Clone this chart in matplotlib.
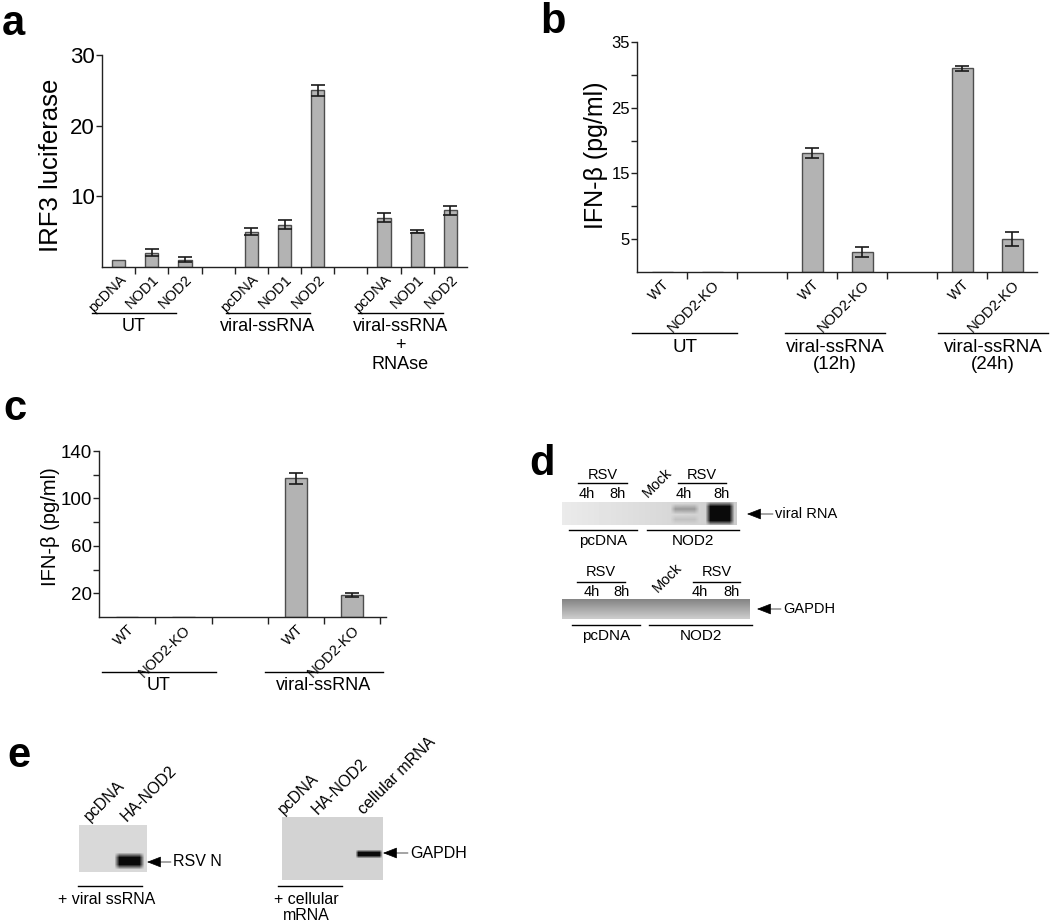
import numpy as np
import matplotlib
matplotlib.use('Agg')
import matplotlib.pyplot as plt
from matplotlib import font_manager

# fonts: Arial-like, with a narrow variant for panel a if present
names = {f.name for f in font_manager.fontManager.ttflist}
HAS_NARROW = 'Liberation Sans Narrow' in names
NARROW = 'Liberation Sans Narrow' if HAS_NARROW else 'Liberation Sans'
plt.rcParams['font.family'] = ['Liberation Sans', 'DejaVu Sans']

W, H = 1050, 923

# === Data ===
# panel a: IRF3 luciferase
a_labels = ['pcDNA', 'NOD1', 'NOD2'] * 3
a_pos = np.array([0, 1, 2, 4, 5, 6, 8, 9, 10])
a_vals = np.array([1.0, 2.0, 1.0, 5.0, 6.0, 25.0, 7.0, 5.0, 8.0])
a_err = np.array([0.0, 0.5, 0.35, 0.45, 0.65, 0.75, 0.65, 0.25, 0.65])
a_groups = ['UT', 'viral-ssRNA', 'viral-ssRNA\n+\nRNAse']

# panel b: IFN-beta, 12h / 24h
b_labels = ['WT', 'NOD2-KO'] * 3
b_pos = np.array([0, 1, 3, 4, 6, 7])
b_vals = np.array([0.0, 0.0, 18.1, 3.0, 31.0, 5.0])
b_err = np.array([0.0, 0.0, 0.75, 0.75, 0.4, 1.05])
b_groups = ['UT', 'viral-ssRNA\n(12h)', 'viral-ssRNA\n(24h)']

# panel c: IFN-beta
c_labels = ['WT', 'NOD2-KO'] * 2
c_pos = np.array([0, 1, 3, 4])
c_vals = np.array([0.0, 0.0, 117.0, 18.5])
c_err = np.array([0.0, 0.0, 4.5, 2.0])
c_groups = ['UT', 'viral-ssRNA']

# gel band intensities (0 = black, 1 = white)
d_top_bands = [(673, 697, 506, 512, 0.62), (673, 697, 517, 522, 0.76), (708, 732, 504, 523, 0.04)]
e1_bands = [(117, 142, 855, 867, 0.04)]
e2_bands = [(357, 381, 851, 857, 0.04)]

BAR_FC = '#b3b3b3'
BAR_EC = '#4d4d4d'


def box(x0, y0, x1, y1):
    return [x0 / W, 1 - y1 / H, (x1 - x0) / W, (y1 - y0) / H]


fig = plt.figure(figsize=(W / 100, H / 100), dpi=100)

# overlay in pixel coordinates for texts, lines and gels
ov = fig.add_axes([0, 0, 1, 1], zorder=0)
ov.patch.set_alpha(0)


def bar_panel(rect, pos, vals, err, labels, xlim, ylim, major, minor, ytick_font, ytick_fs, xtick_fs, width):
    ax = fig.add_axes(box(*rect), zorder=2)
    ax.patch.set_alpha(0)
    ax.bar(pos, vals, width=width, color=BAR_FC, edgecolor=BAR_EC, linewidth=1.0, zorder=2)
    m = err > 0
    ax.errorbar(pos[m], vals[m], yerr=err[m], fmt='none', ecolor='#1a1a1a',
                elinewidth=1.2, capsize=5, capthick=1.2, zorder=3)
    ax.set_xlim(*xlim)
    ax.set_ylim(*ylim)
    for s in ['top', 'right']:
        ax.spines[s].set_visible(False)
    for s in ['left', 'bottom']:
        ax.spines[s].set_color('#222222')
        ax.spines[s].set_linewidth(1.0)
    ax.set_yticks(major)
    ax.set_yticks(minor, minor=True)
    ax.set_yticklabels([str(v) for v in major], fontsize=ytick_fs, family=ytick_font)
    ax.tick_params(axis='y', which='both', length=4, width=1, pad=1, color='#222222')
    ax.set_xticks(pos)
    ax.set_xticklabels(labels, rotation=45, ha='right', rotation_mode='anchor', fontsize=xtick_fs)
    ax.tick_params(axis='x', which='major', length=0, pad=4)
    ax.set_xticks(np.arange(0.5, xlim[1], 1.0), minor=True)
    ax.tick_params(axis='x', which='minor', length=5, width=1, color='#222222')
    return ax


# === Panel a ===
ax_a = bar_panel((102, 55, 467, 267), a_pos, a_vals, a_err, a_labels, (-0.5, 10.5), (0, 30),
                 [10, 20, 30], [], NARROW, 18 if HAS_NARROW else 16,
                 12 if HAS_NARROW else 10.5, 0.4)
for lbl in ax_a.get_xticklabels():
    lbl.set_family(NARROW)
ov.text(51, 165, 'IRF3 luciferase', rotation=90, ha='center', va='center', fontsize=18.5)
grp_fs = 15 if HAS_NARROW else 13
for (x0, x1), txt in zip([(92, 176), (226, 310), (358, 443)], a_groups):
    ov.plot([x0, x1], [313, 313], color='k', lw=1.0)
    ov.text((x0 + x1) / 2, 318, txt, ha='center', va='top', fontsize=grp_fs, family=NARROW,
            linespacing=1.15)

# === Panel b ===
bar_panel((637, 42, 1037, 272), b_pos, b_vals, b_err, b_labels, (-0.5, 7.5), (0, 35),
          [5, 15, 25, 35], [10, 20, 30], 'Liberation Sans', 12, 10.5, 0.42)
ov.text(596, 155, 'IFN-β (pg/ml)', rotation=90, ha='center', va='center', fontsize=18)
for (x0, x1), txt in zip([(632, 737), (785, 885), (938, 1048)], b_groups):
    ov.plot([x0, x1], [333, 333], color='k', lw=1.0)
    ov.text((x0 + x1) / 2, 339, txt, ha='center', va='top', fontsize=13.5, linespacing=1.0)

# === Panel c ===
bar_panel((99, 451, 386, 617), c_pos, c_vals, c_err, c_labels, (-0.5, 4.6), (0, 140),
          [20, 60, 100, 140], [40, 80, 120], 'Liberation Sans', 13.5, 10.5, 0.4)
ov.text(50, 527, 'IFN-β (pg/ml)', rotation=90, ha='center', va='center', fontsize=14.5)
for (x0, x1), txt in zip([(102, 216), (265, 383)], c_groups):
    ov.plot([x0, x1], [672, 672], color='k', lw=1.0)
    ov.text((x0 + x1) / 2, 677, txt, ha='center', va='top', fontsize=13)


# === gels ===
def blur(img, k):
    ker = np.ones(k) / k
    p = k // 2
    img = np.pad(img, p, mode='edge')
    img = np.apply_along_axis(lambda r: np.convolve(r, ker, mode='valid'), 1, img)
    img = np.apply_along_axis(lambda c: np.convolve(c, ker, mode='valid'), 0, img)
    return img


def gel(x0, x1, y0, y1, base, bands, k=3):
    img = base.copy()
    for bx0, bx1, by0, by1, lev in bands:
        img[by0 - y0:by1 - y0, bx0 - x0:bx1 - x0] = lev
    img = blur(img, k)
    ov.imshow(img, cmap='gray', vmin=0, vmax=1, extent=(x0, x1, y1, y0),
              aspect='auto', interpolation='bilinear', zorder=1)


# d top gel
gx0, gx1, gy0, gy1 = 562, 737, 502, 525
base = np.tile(np.linspace(0.92, 0.80, gx1 - gx0), (gy1 - gy0, 1))
gel(gx0, gx1, gy0, gy1, base, d_top_bands, k=5)
# d bottom gel
gx0, gx1, gy0, gy1 = 562, 750, 599, 619
base = np.tile(np.linspace(0.52, 0.80, gy1 - gy0)[:, None], (1, gx1 - gx0))
gel(gx0, gx1, gy0, gy1, base, [], k=3)
# e gels
base = np.full((872 - 825, 147 - 79), 0.85)
gel(79, 147, 825, 872, base, e1_bands, k=5)
base = np.full((880 - 817, 383 - 282), 0.83)
gel(282, 383, 817, 880, base, e2_bands, k=3)

ov.set_xlim(0, W)
ov.set_ylim(H, 0)
ov.axis('off')

# panel d annotations
fs_d = 10.5
for y_rsv, y_line, y_h, left, right, mock in [(475, 483, 494, (578, 627, 587, 618), (678, 726, 684, 721), (648, 498)),
                                             (572, 582, 592, (577, 625, 592, 621), (693, 740, 700, 732), (658, 593))]:
    for lx0, lx1, h4, h8 in [left, right]:
        ov.plot([lx0, lx1], [y_line, y_line], color='k', lw=1.0)
        ov.text((lx0 + lx1) / 2, y_rsv, 'RSV', ha='center', va='center', fontsize=fs_d)
        ov.text(h4, y_h, '4h', ha='center', va='center', fontsize=fs_d)
        ov.text(h8, y_h, '8h', ha='center', va='center', fontsize=fs_d)
    ov.text(mock[0], mock[1], 'Mock', rotation=45, ha='left', va='baseline',
            rotation_mode='anchor', fontsize=fs_d)

for y_line, y_txt, (p0, p1), (n0, n1) in [(530, 541, (569, 637), (647, 739)),
                                         (625, 636, (572, 640), (649, 752))]:
    ov.plot([p0, p1], [y_line, y_line], color='k', lw=1.0)
    ov.text((p0 + p1) / 2, y_txt, 'pcDNA', ha='center', va='center', fontsize=11)
    ov.plot([n0, n1], [y_line, y_line], color='k', lw=1.0)
    ov.text((n0 + n1) / 2, y_txt, 'NOD2', ha='center', va='center', fontsize=11)


def band_arrow(xtip, y, xtxt, txt, fs):
    ov.annotate('', xy=(xtip, y), xytext=(xtxt - 2, y),
                arrowprops=dict(arrowstyle='-|>,head_length=0.9,head_width=0.35',
                                facecolor='k', edgecolor='k', lw=0.5, shrinkA=0, shrinkB=0))
    ov.text(xtxt, y, txt, ha='left', va='center', fontsize=fs)


band_arrow(747, 514, 775, 'viral RNA', 10.5)
band_arrow(757, 609, 783, 'GAPDH', 10.5)

# panel e annotations
fs_e = 11.5
for x, y, txt in [(90, 822, 'pcDNA'), (127, 822, 'HA-NOD2'),
                  (284, 815, 'pcDNA'), (318, 815, 'HA-NOD2'), (364, 815, 'cellular mRNA')]:
    ov.text(x, y, txt, rotation=45, ha='left', va='baseline', rotation_mode='anchor', fontsize=fs_e)
band_arrow(147, 862, 173, 'RSV N', fs_e)
band_arrow(383, 853, 410, 'GAPDH', fs_e)
ov.plot([78, 142], [886, 886], color='k', lw=1.0)
ov.text(107, 899, '+ viral ssRNA', ha='center', va='center', fontsize=fs_e)
ov.plot([278, 342], [886, 886], color='k', lw=1.0)
ov.text(306, 892, '+ cellular\nmRNA', ha='center', va='top', fontsize=fs_e, linespacing=1.05)

# panel letters
for x, y, letter in [(2, 35, 'a'), (540, 33, 'b'), (3, 420, 'c'), (529, 475, 'd'), (7, 767, 'e')]:
    ov.text(x, y, letter, ha='left', va='baseline', fontsize=30, fontweight='bold')

fig.savefig('out.png', dpi=100)
